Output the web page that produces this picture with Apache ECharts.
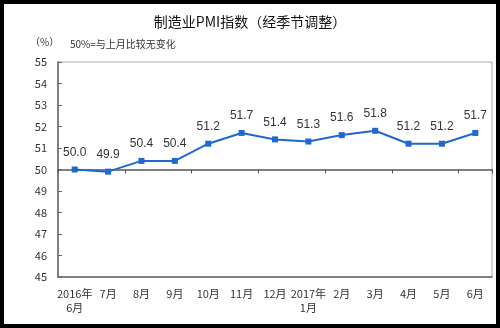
<!DOCTYPE html>
<html><head><meta charset="utf-8">
<script src="https://cdn.jsdelivr.net/npm/echarts@6/dist/echarts.min.js"></script>
<style>
html,body{margin:0;padding:0;background:#fff;}
#c{position:absolute;left:0;top:0;width:500px;height:328px;background:#fff;}
#f{position:absolute;left:0;top:0;width:500px;height:328px;box-sizing:border-box;border:4px solid #000;pointer-events:none;}
</style></head>
<body><div id="c"></div><div id="f"></div>
<script>
const categories = ['2016年\n6月','7月','8月','9月','10月','11月','12月','2017年\n1月','2月','3月','4月','5月','6月'];
const pmiValues = [50.0, 49.9, 50.4, 50.4, 51.2, 51.7, 51.4, 51.3, 51.6, 51.8, 51.2, 51.2, 51.7];
const yMin = 45, yMax = 55, yStep = 1, baseline = 50;
const titleText = '制造业PMI指数（经季节调整）';
const unitText = '（%）';
const noteText = '50%=与上月比较无变化';

const gridTop = 62, gridBottom = 51, H = 328;
const gridH = H - gridTop - gridBottom;
const baseOffset = -gridH * (baseline - yMin) / (yMax - yMin);

const chart = echarts.init(document.getElementById('c'));
const font = '"Noto Sans CJK SC", "Liberation Sans", sans-serif';
chart.setOption({
  animation: false,
  title: {text: titleText, left: 'center', top: 10, textStyle: {fontSize: 14, fontWeight: 'normal', color: '#111', fontFamily: font}},
  graphic: [
    {type: 'text', left: 30, top: 37, style: {text: unitText, fontSize: 10, fill: '#333', fontFamily: font}},
    {type: 'text', left: 70, top: 39, style: {text: noteText, fontSize: 10, fill: '#333', fontFamily: font}},
    {type: 'rect', shape: {x: 58, y: gridTop, width: 434, height: gridH}, style: {fill: 'none', stroke: '#aaa', lineWidth: 1}, z: -1}
  ],
  grid: {left: 58, right: 8, top: gridTop, bottom: gridBottom},
  xAxis: [{
    type: 'category', data: categories, boundaryGap: true,
    axisLine: {lineStyle: {color: '#666', width: 1.5}},
    axisTick: {show: false},
    axisLabel: {color: '#333', fontSize: 11, fontFamily: font, margin: 10, interval: 0, lineHeight: 14}
  }, {
    type: 'category', data: categories, boundaryGap: true, position: 'bottom', offset: baseOffset,
    axisLine: {lineStyle: {color: '#555', width: 1.5}},
    axisTick: {show: true, length: 4, inside: false, lineStyle: {color: '#555'}},
    axisLabel: {show: false}
  }],
  yAxis: {
    type: 'value', min: yMin, max: yMax, interval: yStep,
    axisLine: {show: true, lineStyle: {color: '#666', width: 1.5}},
    axisTick: {show: true, inside: true, length: 4, lineStyle: {color: '#666'}},
    axisLabel: {color: '#333', fontSize: 11, fontFamily: font, margin: 11},
    splitLine: {show: false}
  },
  series: [{
    type: 'line', data: pmiValues, xAxisIndex: 0,
    symbol: 'rect', symbolSize: 6,
    lineStyle: {color: '#1f68d0', width: 2},
    itemStyle: {color: '#1f68d0'},
    label: {show: true, position: 'top', distance: 8, color: '#333', fontSize: 12, fontFamily: '"Liberation Sans", Arial, sans-serif', formatter: p => p.value.toFixed(1)}
  }]
});
</script></body></html>
